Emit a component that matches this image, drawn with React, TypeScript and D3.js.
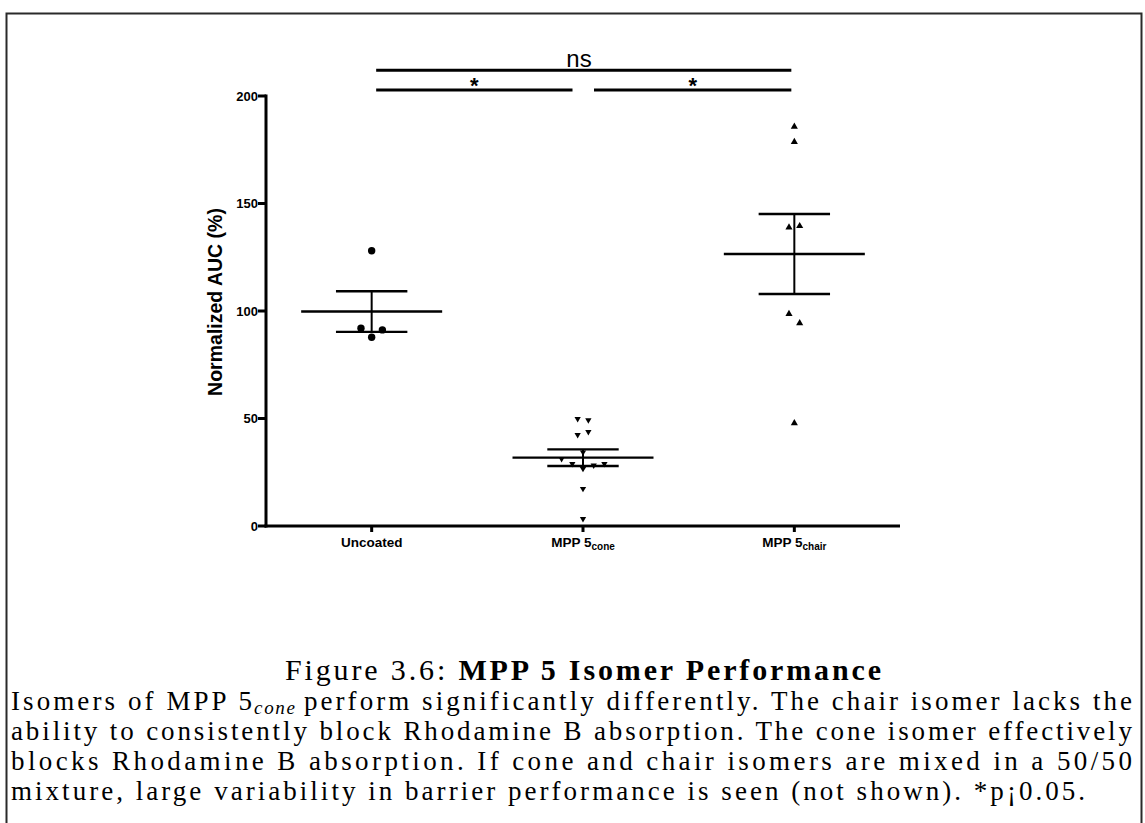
import React from 'react';
import * as d3 from 'd3';

// Groups shown on the x axis
const categories = ['Uncoated', 'MPP 5cone', 'MPP 5chair'];
const categoryMain = ['Uncoated', 'MPP 5', 'MPP 5'];
const categorySub = ['', 'cone', 'chair'];

// Normalized AUC (%) per replicate, with the scatter column each point sits in
const uncoatedValues = [128.0, 92.0, 87.8, 91.2];
const uncoatedSlots = [0, -1, 0, 1];
const coneValues = [49.6, 49.0, 42.2, 43.6, 34.1, 31.0, 28.7, 26.4, 28.0, 28.7, 17.1, 3.1];
const coneSlots = [-0.5, 0.5, -0.5, 0.5, 0, -2, -1, 0, 1, 2, 0, 0];
const chairValues = [186.0, 178.9, 139.2, 139.8, 98.9, 94.6, 48.1];
const chairSlots = [0, 0, -0.5, 0.5, -0.5, 0.5, 0];

const yTicks = [0, 50, 100, 150, 200];

// Pairwise comparisons drawn above the plot
const comparisonFrom = [0, 1, 0];
const comparisonTo = [1, 2, 2];
const comparisonLabels = ['*', '*', 'ns'];
const comparisonLevels = [0, 0, 1];

const captionLines = [
  'ability to consistently block Rhodamine B absorption. The cone isomer effectively',
  'blocks Rhodamine B absorption. If cone and chair isomers are mixed in a 50/50',
];
const captionLast = 'mixture, large variability in barrier performance is seen (not shown). *p\u00a10.05.';

const groups = [
  { values: uncoatedValues, slots: uncoatedSlots, marker: 'circle' },
  { values: coneValues, slots: coneSlots, marker: 'down' },
  { values: chairValues, slots: chairSlots, marker: 'up' },
];

const SANS = "'Liberation Sans', Arial, Helvetica, sans-serif";
const SERIF = "'Liberation Serif', 'Times New Roman', serif";

export default function App() {
  const W = 1145;
  const H = 823;
  const axisLeft = 266;
  const axisRight = 900;
  const axisBottom = 526;
  const axisTop = 96;

  const x = d3.scalePoint<string>().domain(categories).range([axisLeft, axisRight]).padding(0.5);
  const y = d3.scaleLinear().domain([0, 200]).range([axisBottom, axisTop]);
  const slotWidth = 10.7;

  const upTri = d3.symbol().type(d3.symbolTriangle).size(22)()!;
  const downTri = d3.symbol().type(d3.symbolTriangle).size(17)()!;

  const sigY = [y(202.8), y(212)];

  const capSize = 27;
  const lineGap = 30;
  const lastBase = 800;
  const base = (i: number) => lastBase - (4 - i) * lineGap;

  return (
    <svg width={W} height={H} style={{ position: 'absolute', left: 0, top: 0, background: '#fff' }}>
      <rect x={0} y={0} width={W} height={H} fill="#fff" />
      {/* page frame */}
      <path d={`M6.5,${H} V13.5 H1141.5 V${H}`} fill="none" stroke="#2a2a2a" strokeWidth={2} />

      {/* axes */}
      <g stroke="#000" strokeWidth={3} fill="none">
        <line x1={axisLeft} x2={axisLeft} y1={axisTop - 1.5} y2={axisBottom + 1.5} />
        <line x1={axisLeft - 1.5} x2={axisRight} y1={axisBottom} y2={axisBottom} />
        {yTicks.map((t) => (
          <line key={t} x1={axisLeft - 8} x2={axisLeft} y1={y(t)} y2={y(t)} />
        ))}
        {categories.map((c) => (
          <line key={c} x1={x(c)} x2={x(c)} y1={axisBottom} y2={axisBottom + 6} />
        ))}
      </g>
      <g fontFamily={SANS} fontWeight="bold" fontSize={13} textAnchor="end">
        {yTicks.map((t) => (
          <text key={t} x={axisLeft - 8} y={y(t) + 4.6}>
            {t}
          </text>
        ))}
      </g>
      <text
        transform={`translate(222,302) rotate(-90)`}
        textAnchor="middle"
        fontFamily={SANS}
        fontWeight="bold"
        fontSize={19.5}
      >
        Normalized AUC (%)
      </text>
      <g fontFamily={SANS} fontWeight="bold" fontSize={13.5} textAnchor="middle">
        {categories.map((c, i) => (
          <text key={c} x={x(c)} y={546.5}>
            {categoryMain[i]}
            {categorySub[i] && (
              <tspan fontSize={10} dy={3.5}>
                {categorySub[i]}
              </tspan>
            )}
          </text>
        ))}
      </g>

      {/* points, means and SEM bars */}
      {groups.map((g, gi) => {
        const cx = x(categories[gi])!;
        const mean = d3.mean(g.values)!;
        const sem = d3.deviation(g.values)! / Math.sqrt(g.values.length);
        return (
          <g key={gi}>
            {g.values.map((v, i) => {
              const px = cx + g.slots[i] * slotWidth;
              const py = y(v);
              if (g.marker === 'circle') return <circle key={i} cx={px} cy={py} r={3.7} fill="#000" />;
              if (g.marker === 'up') return <path key={i} d={upTri} transform={`translate(${px},${py + 0.6})`} fill="#000" />;
              return <path key={i} d={downTri} transform={`translate(${px},${py - 0.5}) rotate(180)`} fill="#000" />;
            })}
            <g stroke="#000" fill="none">
              <line x1={cx - 70.5} x2={cx + 70.5} y1={y(mean)} y2={y(mean)} strokeWidth={2.4} />
              <line x1={cx - 35.7} x2={cx + 35.7} y1={y(mean + sem)} y2={y(mean + sem)} strokeWidth={2.4} />
              <line x1={cx - 35.7} x2={cx + 35.7} y1={y(mean - sem)} y2={y(mean - sem)} strokeWidth={2.4} />
              <line x1={cx} x2={cx} y1={y(mean + sem)} y2={y(mean - sem)} strokeWidth={2} />
            </g>
          </g>
        );
      })}

      {/* significance brackets */}
      {comparisonLabels.map((lab, i) => {
        const a = comparisonFrom[i];
        const b = comparisonTo[i];
        const x1 = x(categories[a])! + (a === 1 ? 11 : 4.5);
        const x2 = x(categories[b])! - (b === 1 ? 10.5 : 3);
        const ly = sigY[comparisonLevels[i]];
        const big = lab === 'ns';
        return (
          <g key={i}>
            <line x1={x1} x2={x2} y1={ly} y2={ly} stroke="#000" strokeWidth={3} />
            <text
              x={big ? 579 : (x1 + x2) / 2}
              y={big ? ly - 3 : ly + 3}
              textAnchor="middle"
              fontFamily={SANS}
              fontWeight={big ? 'normal' : 'bold'}
              fontSize={big ? 24 : 22}
            >
              {lab}
            </text>
          </g>
        );
      })}

      {/* caption */}
      <g fontFamily={SERIF} fill="#000">
        <text x={285} y={base(0)} fontSize={30} textLength={596} lengthAdjust="spacing">
          Figure 3.6: <tspan fontWeight="bold">MPP 5 Isomer Performance</tspan>
        </text>
        <text x={11} y={base(1)} fontSize={capSize} textLength={241} lengthAdjust="spacing">
          Isomers of MPP 5
        </text>
        <text x={254} y={base(1) + 4} fontSize={19} fontStyle="italic" textLength={41} lengthAdjust="spacing">
          cone
        </text>
        <text x={304} y={base(1)} fontSize={capSize} textLength={828} lengthAdjust="spacing">
          perform significantly differently. The chair isomer lacks the
        </text>
        {captionLines.map((l, i) => (
          <text key={i} x={11} y={base(2 + i)} fontSize={capSize} textLength={1121} lengthAdjust="spacing">
            {l}
          </text>
        ))}
        <text x={11} y={base(4)} fontSize={capSize} textLength={1074} lengthAdjust="spacing">
          {captionLast}
        </text>
      </g>
    </svg>
  );
}
